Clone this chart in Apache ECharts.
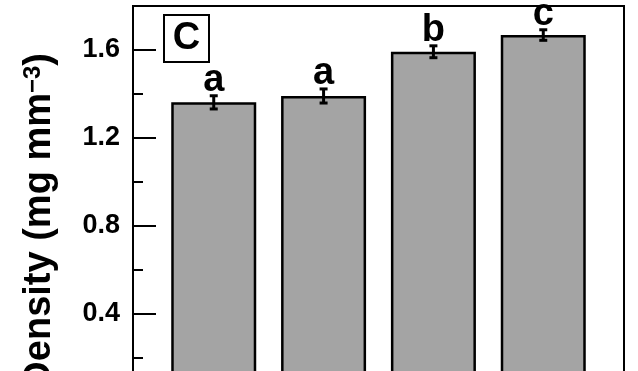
<!DOCTYPE html>
<html>
<head>
<meta charset="utf-8">
<script src="https://cdn.jsdelivr.net/npm/echarts@6/dist/echarts.min.js"></script>
<style>html,body{margin:0;padding:0;background:#fff}#chart{width:638px;height:371px}</style>
</head>
<body>
<div id="chart"></div>
<script>
const groups = [1, 2, 3, 4];
const density = [1.362, 1.391, 1.592, 1.668];
const errors = [0.030, 0.032, 0.027, 0.024];
const letters = ['a', 'a', 'b', 'c'];
const majorTicks = [0.4, 0.8, 1.2, 1.6];
const minorTicks = [0.2, 0.6, 1.0, 1.4];

const font = '"Liberation Sans", Arial, sans-serif';
const chart = echarts.init(document.getElementById('chart'));

const barData = groups.map((g, i) => [g, density[i]]);
const errData = groups.map((g, i) => [g, density[i], errors[i], i]);

function renderError(params, api) {
  const x = api.value(0), v = api.value(1), e = api.value(2), i = api.value(3);
  const top = api.coord([x, v + e]);
  const bot = api.coord([x, v - e]);
  const cw = 4;
  const ls = { stroke: '#000', lineWidth: 3 };
  return {
    type: 'group',
    children: [
      { type: 'line', shape: { x1: top[0], y1: top[1], x2: bot[0], y2: bot[1] }, style: ls },
      { type: 'line', shape: { x1: top[0] - cw, y1: top[1], x2: top[0] + cw, y2: top[1] }, style: ls },
      { type: 'line', shape: { x1: bot[0] - cw, y1: bot[1], x2: bot[0] + cw, y2: bot[1] }, style: ls },
      {
        type: 'text', x: top[0], y: top[1] + 4,
        style: {
          text: letters[i], fill: '#000',
          font: 'bold 38px ' + font,
          textAlign: 'center', textVerticalAlign: 'bottom',
          align: 'center', verticalAlign: 'bottom'
        }
      }
    ]
  };
}

const option = {
  animation: false,
  grid: {
    left: 133, top: 6, width: 491, height: 396, outerBoundsMode: 'none',
    show: true, borderColor: '#000', borderWidth: 2
  },
  xAxis: {
    type: 'value', min: 0.265, max: 4.735,
    axisLine: { show: false }, axisTick: { show: false }, axisLabel: { show: false }, splitLine: { show: false }
  },
  yAxis: [
    {
      type: 'value', min: 0, max: 1.8,
      axisLine: { show: false }, splitLine: { show: false },
      axisTick: { inside: true, length: 23, lineStyle: { color: '#000', width: 2 }, customValues: majorTicks },
      axisLabel: {
        customValues: majorTicks, margin: 13, color: '#000',
        fontSize: 27, fontWeight: 'bold', fontFamily: font,
        formatter: v => v.toFixed(1)
      }
    },
    {
      type: 'value', min: 0, max: 1.8, position: 'left',
      axisLine: { show: false }, splitLine: { show: false }, axisLabel: { show: false },
      axisTick: { inside: true, length: 10, lineStyle: { color: '#000', width: 2 }, customValues: minorTicks }
    }
  ],
  series: [
    {
      type: 'bar', data: barData, barWidth: 85,
      itemStyle: { color: '#a4a4a4', borderColor: '#000', borderWidth: 2.5 }
    },
    {
      type: 'custom', data: errData, renderItem: renderError, z: 5
    }
  ],
  graphic: [
    {
      type: 'rect', shape: { x: 164, y: 15, width: 45, height: 47 },
      style: { fill: 'transparent', stroke: '#000', lineWidth: 2 }
    },
    {
      type: 'text', x: 186.5, y: 39,
      style: {
        text: 'C', fill: '#000', font: 'bold 38px ' + font,
        textAlign: 'center', textVerticalAlign: 'middle', align: 'center', verticalAlign: 'middle'
      }
    },
    {
      type: 'text', x: 40, y: 53, rotation: Math.PI / 2,
      style: {
        text: '{n|Density (mg mm}{s|\u22123}{n|)}',
        textAlign: 'right', textVerticalAlign: 'middle', align: 'right', verticalAlign: 'middle',
        rich: {
          n: { fontSize: 38, fontWeight: 'bold', fontFamily: font, lineHeight: 38, fill: '#000', color: '#000' },
          s: { fontSize: 24, fontWeight: 'bold', fontFamily: font, lineHeight: 24, verticalAlign: 'top', fill: '#000', color: '#000' }
        }
      }
    }
  ]
};
chart.setOption(option);
</script>
</body>
</html>
